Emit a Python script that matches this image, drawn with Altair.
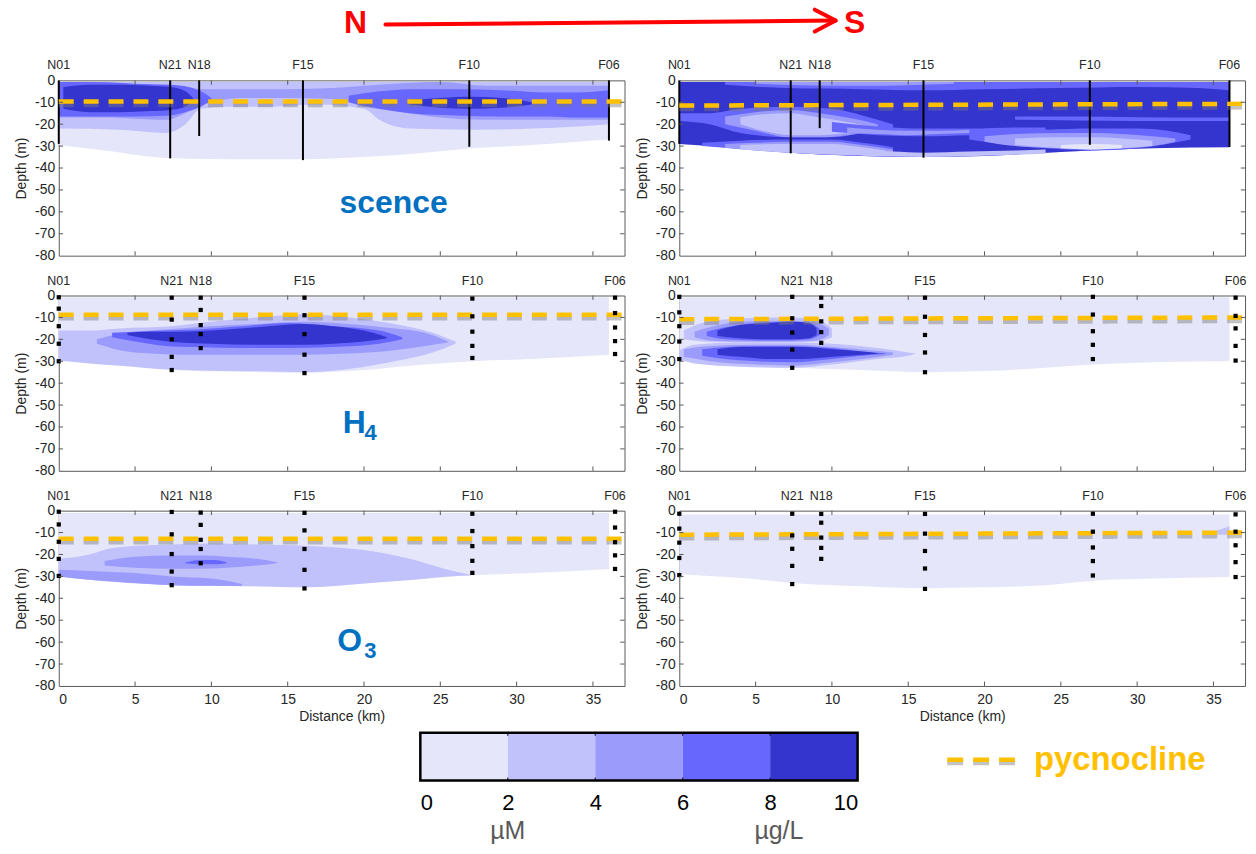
import altair as alt
import pandas as pd

FONT = "Liberation Sans"
AXIS_GREY = "#262626"
FRAME_GREY = "#595959"

# ---- panel geometry -------------------------------------------------------
X_MAX = 37.07
Y_MIN = -80
PANEL_W = 568
PANEL_H = 176
TICK_LEN_M = 2.0
TICK_LEN_KM = 0.28

X_TICKS = [0, 5, 10, 15, 20, 25, 30, 35]
Y_TICKS = [0, -10, -20, -30, -40, -50, -60, -70, -80]

# ---- stations --------------------------------------------------------------
STATIONS = ["N01", "N21", "N18", "F15", "F10", "F06"]
STATION_KM = [0.0, 7.4, 9.3, 16.1, 27.1, 36.45]   # bottle stations
CAST_KM = [0.0, 7.3, 9.2, 16.0, 26.9, 36.05]       # CTD casts

# ---- colour classes (0-2, 2-4, 4-6, 6-8, 8-10) -----------------------------
LEVEL_EDGES = [0, 2, 4, 6, 8, 10]
LEVEL_COLORS = ["#E6E6FA", "#C1C1FB", "#9B9BFB", "#6767FE", "#3434CE"]

PYCNO_COLOR = "#FFC000"
LABEL_BLUE = "#0070C0"

# ---- fluorescence -----------------------------------------------------------
FL_L_SECTION_X = [0, 3, 7.3, 12, 16, 20, 24, 27, 31, 34, 36.05]
FL_L_SECTION_BOTTOM = [-29.5, -32, -35.5, -36, -36, -35, -33, -31, -29.5, -28, -27]
FL_L_SURFACE = -0.8
FL_L_BANDS = [
    (1, [0, 4, 7, 8.3, 9.3, 11, 14, 17, 20, 21, 23, 27, 31, 34, 36.05], -0.8,
     [-22, -22.5, -24, -20, -13, -12, -12, -11, -13, -18, -22, -22.5, -22, -21, -20]),
    (2, [0, 3, 5, 7, 8.3, 9.5, 12, 15, 18, 20, 22, 25, 28, 31, 34, 36.05],
     [-0.8, -0.8, -2.5, -3.5, -3.5, -4, -4, -4, -3.5, -2.5, -1.5, -0.8, -2.5, -2.5, -2.5, -2.5],
     [-17, -17, -17.5, -18, -15, -11, -8, -8, -8.5, -12, -14, -17, -18, -18, -18, -18]),
    (3, [0, 2, 5, 7.3, 8.5, 9.3, 10], [-0.8, -0.8, -1.5, -2, -3, -5, -8],
     [-16.5, -16.5, -16.5, -16, -14, -12, -9]),
    (3, [19, 21, 23, 26, 29, 32, 34, 36.05], [-7, -5, -4, -4, -4.5, -5.5, -5.5, -4.5],
     [-10, -13, -15, -16, -16.5, -16.5, -17, -17]),
    (4, [0.3, 2, 4, 6, 7.3, 8.3, 8.8], [-3, -2, -2, -2.5, -3, -5, -8],
     [-13, -14.5, -14.5, -14, -13.5, -12, -9]),
    (4, [23, 25, 27, 29, 31], [-9, -8, -7.5, -8, -10], [-11, -12.5, -13, -12.5, -11]),
]
FL_L_CAST_DEPTH = [-29, -35.6, -25.4, -36.4, -30.3, -27.5]
FL_L_PYCNO = [-9.6, -9.6]

FL_R_SECTION_X = [0, 3, 7.3, 12, 16, 20, 23, 27, 31, 36.05]
FL_R_SECTION_BOTTOM = [-29, -30.5, -33, -34.5, -35, -34.5, -33.5, -32, -31, -30.5]
FL_R_SURFACE = -0.8
FL_R_BANDS = [
    (4, [0, 3, 7.3, 12, 16, 20, 23, 27, 31, 36.05], -0.8,
     [-29, -30.5, -33, -34.5, -35, -34.5, -33.5, -32, -31, -30.5]),
    (3, [3, 7, 12, 16, 20, 25, 30, 34, 36.05], -0.8, [-2, -3.5, -4, -4.5, -4, -3.5, -3, -3.5, -4.5]),
    (2, [5, 8, 12, 15, 18], -0.8, [-1.5, -2.2, -2.5, -2.2, -1.5]),
    (3, [0, 2, 4, 7.3, 10, 12, 14], [-15, -15, -13, -12, -13, -16, -20], [-18.5, -20, -24, -26, -26, -24, -22]),
    (2, [3, 5, 7.3, 9.2, 11, 13], [-16.5, -14.5, -13.5, -15, -17, -20], [-20, -23, -26, -26, -25, -23]),
    (1, [4, 5.5, 7.3, 9.2, 11, 12.5], [-17, -15.5, -15, -17, -19, -21], [-20, -23, -25, -25, -24, -22.5]),
    (3, [10, 13, 16, 19, 22, 24], [-19, -21, -22, -22, -21.5, -21.5], [-23.5, -25, -25.5, -25, -24.5, -24]),
    (2, [11, 13, 15, 17, 19], [-21.5, -22.5, -23, -23, -22.5], [-24, -24.5, -25, -24.5, -24]),
    (3, [1.5, 4, 7.3, 10, 12, 14], [-28.5, -27.5, -27, -27, -28.5, -30.5], [-30, -31.3, -33, -34, -34.5, -34.8]),
    (2, [3, 5, 7.3, 10, 12, 14], [-29, -28.5, -28, -28, -29.5, -31.5], [-30.8, -32, -33, -34, -34.3, -34.6]),
    (1, [4, 7.3, 10, 12, 13.5], [-29.5, -29, -29, -30.5, -32], [-31.5, -33, -33.8, -34.2, -34.5]),
    (1, [12, 14, 16, 19, 22, 24], [-32, -32.5, -33, -32.5, -32, -31.5], [-34.4, -34.8, -35, -34.6, -34, -33.5]),
    (3, [19, 21, 24, 27, 30, 32, 33.5], [-24.5, -23, -22.5, -22, -22, -23, -25], [-27, -29, -31, -32, -31, -29, -27]),
    (2, [20, 22, 25, 27, 29, 31, 32.5], [-25.5, -24.5, -24, -24, -24.5, -25.5, -26.5], [-28, -30, -31, -31.5, -31, -30, -28]),
    (1, [22, 25, 27.1, 29, 31], [-26.5, -26, -26, -26.5, -27.5], [-29.5, -31, -31.5, -31, -30]),
    (0, [25, 27, 29], [-29.5, -29, -29.5], [-31, -31.5, -31]),
    (3, [22, 26, 30, 34, 36.05], [-16.5, -16.5, -16.8, -17, -17], [-18, -18.3, -18.5, -18.5, -18.5]),
]
FL_R_CAST_DEPTH = [-29, -33.3, -21.8, -35.3, -29.4, -30.4]
FL_R_PYCNO = [-11.5, -10.7]

# ---- NH4 ---------------------------------------------------------------------
NH4_L_SECTION_X = [0, 4, 7.4, 12, 16.1, 20, 23, 27.1, 31, 36.05]
NH4_L_SECTION_BOTTOM = [-30, -31.5, -34, -34.8, -35.2, -34, -32, -30, -29, -27]
NH4_L_SURFACE = -0.8
NH4_L_BANDS = [
    (1, [0, 2, 4, 7.4, 10, 13, 16.1, 19, 22, 24.5, 26],
     [-16, -16, -15, -14, -12, -10, -8.5, -10, -13, -17, -21],
     [-29.5, -31, -32, -33.8, -34.3, -34.6, -35, -33.5, -30, -26, -22]),
    (2, [2.5, 4, 6, 8, 10, 13, 16.1, 19, 22, 24, 25.5],
     [-20, -17.5, -16, -15, -14, -13, -12, -13, -15, -17, -21],
     [-22, -25, -26.5, -27, -27, -27, -27, -26.5, -25, -23, -21.5]),
    (3, [3.5, 5, 7, 9, 12, 15, 18, 21, 22.5],
     [-17, -16.5, -16, -15.5, -14, -12.5, -14, -16, -19],
     [-19, -21, -23, -23.5, -24, -24, -23.5, -22, -20]),
    (4, [4.5, 6, 8, 10, 13, 16.1, 18, 20, 21.5],
     [-17, -16.5, -16.5, -16, -14.5, -13, -14, -16, -19],
     [-18, -20, -21.5, -22, -22.5, -22.5, -22, -21, -19.5]),
]
NH4_L_SAMPLES = [
    [-0.8, -6, -14, -22, -30],
    [-1, -11, -20, -28, -34],
    [-1, -6.6, -13.5, -17.6, -24],
    [-1, -9, -17.6, -27, -35.4],
    [-1.4, -9.5, -16.5, -23, -28.5],
    [-1, -8, -14.6, -20.8, -26.7],
]
NH4_L_PYCNO = [-8.8, -8.8]

NH4_R_SECTION_X = [0, 4.5, 7.4, 12, 16.1, 20, 24, 27.1, 31, 36.05]
NH4_R_SECTION_BOTTOM = [-30, -32, -33, -34, -35, -34.5, -33, -31.5, -30.5, -30]
NH4_R_SURFACE = -0.8
NH4_R_BANDS = [
    (1, [0.3, 1.5, 4, 7.4, 9, 10], [-16, -12.5, -10.5, -10, -11, -15], [-20, -21, -21.5, -21.5, -21, -19]),
    (2, [1, 2, 4, 7.4, 9, 9.8], [-16.5, -14.5, -12, -11.5, -12.5, -15], [-19, -20.5, -21, -21, -20.5, -18]),
    (3, [1.8, 3, 5, 7.4, 8.5, 9.2], [-16.5, -14.5, -12.5, -12, -12.5, -15], [-18.5, -20, -20.5, -20.5, -20, -18]),
    (4, [2.5, 4, 6, 7.4, 8.5, 9], [-16, -13.5, -12.5, -12, -12.5, -15], [-18.5, -19.5, -20, -20, -19.5, -18]),
    (1, [0, 1, 4, 7.4, 10, 13, 15, 15.5], [-25, -22.5, -21.5, -21.5, -22, -24, -26, -26.5],
     [-29, -31, -32.5, -33, -31.5, -29, -27.5, -26.5]),
    (2, [0.3, 2, 5, 7.4, 10, 12.5, 14], [-24.5, -23, -22.5, -22.5, -23.5, -25, -26],
     [-28, -30, -31.5, -32, -30.5, -28.5, -27]),
    (3, [1.5, 3, 5, 7.4, 10, 12, 13.5], [-24.5, -23.5, -23, -23, -24, -25.5, -26.3],
     [-27.5, -29, -30, -30.5, -29, -27.5, -26.7]),
    (4, [2.5, 4, 6, 8, 10, 12, 13], [-24.5, -23.5, -23.5, -23.5, -24.5, -25.5, -26.3],
     [-27, -28, -29, -29, -28, -27, -26.6]),
]
NH4_R_SAMPLES = [
    [-0.6, -7.7, -14, -21, -29],
    [-0.6, -10.4, -16.9, -24.7, -33],
    [-1, -4.8, -11.8, -16.7, -21.6],
    [-1, -9.7, -18, -26, -35],
    [-0.6, -8.7, -16.3, -22.5, -29],
    [-1, -9.3, -15, -23, -29.7],
]
NH4_R_PYCNO = [-10.8, -10]

# ---- NO3 ---------------------------------------------------------------------
NO3_L_SECTION_X = [0, 4, 7.4, 12, 16.1, 20, 23, 27.1, 31, 36.05]
NO3_L_SECTION_BOTTOM = [-30, -32, -34, -34.5, -35, -33.2, -31.7, -29.5, -28.5, -26.6]
NO3_L_SURFACE = -1.1
NO3_L_BANDS = [
    (1, [0, 2, 3.5, 7.4, 10, 13, 16.1, 20, 23, 25.5, 27],
     [-22, -20, -17, -15.5, -15, -15.5, -16, -18, -22, -27, -29.3],
     [-30, -31.5, -32.5, -34, -34.3, -34.5, -35, -33.2, -31.7, -30, -29.6]),
    (2, [3, 5, 7.4, 9.3, 11, 13, 14.3], [-23, -21, -20.5, -20.5, -21, -22, -23.5],
     [-25, -26, -26.5, -26.5, -26, -25, -24]),
    (2, [0, 2, 5, 7.4, 10, 12], [-27, -27.5, -28.5, -30, -31, -33.5],
     [-30, -31.5, -33, -34, -34.3, -34.4]),
    (3, [8.3, 9.3, 10.2, 11], [-23.5, -22.5, -22.5, -23.5], [-24, -24.5, -24.5, -24]),
]
NO3_L_SAMPLES = [
    [-0.5, -6.3, -14.2, -22, -29.8],
    [-0.6, -10.8, -19.8, -27.8, -34],
    [-0.9, -6.5, -13.3, -17.5, -24],
    [-1, -9, -17.5, -27, -35.5],
    [-1.4, -9.3, -16.2, -22.9, -28.4],
    [-0.5, -7.7, -14.4, -20.4, -26.6],
]
NO3_L_PYCNO = [-12.8, -12.8]

NO3_R_SECTION_X = [0, 4.5, 7.4, 12, 16.1, 20, 24, 27.1, 31, 36.05]
NO3_R_SECTION_BOTTOM = [-29, -31, -33, -34.5, -35.4, -35, -34, -32, -31, -30.3]
NO3_R_SURFACE = -1.8
NO3_R_BANDS = [
    (1, [34.5, 35.5, 36.05], [-10, -8.5, -7], [-10.5, -11, -11]),
]
NO3_R_SAMPLES = [
    [-1.4, -8.2, -14.6, -21.6, -29.4],
    [-1.4, -11.3, -17.4, -25.2, -33.5],
    [-1.5, -5.5, -12.3, -17, -22],
    [-1.5, -10.5, -18.4, -26.4, -35.7],
    [-1.4, -9.6, -16.8, -23, -29.6],
    [-1.7, -9.6, -15.8, -23.5, -30.3],
]
NO3_R_PYCNO = [-11, -10]

# ---- colour bar / legend -------------------------------------------------------
UNIT_LABELS = ["\u00b5M", "\u00b5g/L"]
UNIT_POS = [2.0, 8.2]


X_SCALE = alt.Scale(domain=[0, X_MAX], nice=False, zero=False)
Y_SCALE = alt.Scale(domain=[Y_MIN, 0], nice=False, zero=False)

Y_AXIS = alt.Axis(values=Y_TICKS, title="Depth (m)", ticks=False, domain=False, grid=False,
                  labelPadding=4, titlePadding=6,
                  labelExpr="datum.value == 0 ? '0' : '-' + abs(datum.value)")
X_AXIS = alt.Axis(values=X_TICKS, title="Distance (km)", ticks=False, domain=False,
                  grid=False, labelPadding=7, titlePadding=3)


def panel(section_x, surface, section_bottom, bands, pycno, casts=None,
          samples=None, x_axis=False, extra=()):
    xax = X_AXIS if x_axis else None

    # every layer carries the same axis definitions so that they merge cleanly
    def X(field):
        return alt.X(field, type="quantitative", scale=X_SCALE, axis=xax)

    def Y(field):
        return alt.Y(field, type="quantitative", scale=Y_SCALE, axis=Y_AXIS)

    def area(level, xs, tops, bottoms):
        if not isinstance(tops, list):
            tops = [tops] * len(xs)
        df = pd.DataFrame({"x": xs, "top": tops, "bottom": bottoms})
        return alt.Chart(df).mark_area(
            color=LEVEL_COLORS[level], interpolate="monotone", orient="vertical", opacity=1
        ).encode(x=X("x"), y=Y("top"), y2="bottom")

    layers = [area(0, section_x, surface, section_bottom)]
    for lvl, xs, tops, bottoms in bands:
        layers.append(area(lvl, xs, tops, bottoms))

    if casts is not None:
        cdf = pd.DataFrame({"x": CAST_KM, "top": [0] * len(CAST_KM), "depth": casts})
        layers.append(alt.Chart(cdf).mark_rule(color="black", strokeWidth=2).encode(
            x=X("x"), y=Y("top"), y2="depth"))
        label_km = CAST_KM
    else:
        label_km = STATION_KM

    # pycnocline with a soft grey shadow underneath
    pdf = pd.DataFrame({"x": [0, X_MAX], "y": pycno,
                        "ys": [v - 1.5 for v in pycno]})
    layers.append(alt.Chart(pdf).mark_line(color="#7a7a7a", opacity=0.45, strokeWidth=5,
                                           strokeDash=[15, 10]).encode(x=X("x"), y=Y("ys")))
    layers.append(alt.Chart(pdf).mark_line(color=PYCNO_COLOR, strokeWidth=4.5,
                                           strokeDash=[15, 10]).encode(x=X("x"), y=Y("y")))

    if samples is not None:
        rows = []
        for km, depths in zip(STATION_KM, samples):
            for d in depths:
                rows.append({"x": km, "depth": d})
        layers.append(alt.Chart(pd.DataFrame(rows)).mark_square(
            size=18, color="black", opacity=1).encode(x=X("x"), y=Y("depth")))

    # inward ticks on all four sides
    tx = pd.DataFrame({"x": X_TICKS[1:]})
    tx["b0"] = Y_MIN
    tx["b1"] = Y_MIN + TICK_LEN_M
    tx["t0"] = 0
    tx["t1"] = -TICK_LEN_M
    ty = pd.DataFrame({"y": Y_TICKS[1:-1]})
    ty["l0"] = 0
    ty["l1"] = TICK_LEN_KM
    ty["r0"] = X_MAX
    ty["r1"] = X_MAX - TICK_LEN_KM
    layers.append(alt.Chart(tx).mark_rule(color=FRAME_GREY, strokeWidth=1).encode(
        x=X("x"), y=Y("b0"), y2="b1"))
    layers.append(alt.Chart(tx).mark_rule(color=FRAME_GREY, strokeWidth=1).encode(
        x=X("x"), y=Y("t0"), y2="t1"))
    layers.append(alt.Chart(ty).mark_rule(color=FRAME_GREY, strokeWidth=1).encode(
        y=Y("y"), x=X("l0"), x2="l1"))
    layers.append(alt.Chart(ty).mark_rule(color=FRAME_GREY, strokeWidth=1).encode(
        y=Y("y"), x=X("r0"), x2="r1"))

    sdf = pd.DataFrame({"x": label_km, "name": STATIONS})
    layers.append(alt.Chart(sdf).mark_text(fontSize=12.5, font=FONT, color=AXIS_GREY,
                                           baseline="middle").encode(
        x=X("x"), y=alt.value(-15), text="name:N"))

    for spec in extra:
        kind = spec[0]
        if kind == "label":
            _, main, sub, km, depth, sub_dx = spec
            df = pd.DataFrame({"x": [km], "y": [depth], "t": [main], "s": [sub]})
            layers.append(alt.Chart(df).mark_text(
                fontSize=32, fontWeight="bold", font=FONT, color=LABEL_BLUE,
                align="left", baseline="middle").encode(x=X("x"), y=Y("y"), text="t:N"))
            if sub:
                layers.append(alt.Chart(df).mark_text(
                    fontSize=22, fontWeight="bold", font=FONT, color=LABEL_BLUE,
                    align="left", baseline="middle", dx=sub_dx, dy=10).encode(
                    x=X("x"), y=Y("y"), text="s:N"))
        else:
            layers.extend(spec[1])
    return alt.layer(*layers).properties(width=PANEL_W, height=PANEL_H)


# North -> South arrow drawn above the first row
one = pd.DataFrame({"k": [0]})
arrow = [
    alt.Chart(one).mark_text(text="N", fontSize=32, fontWeight="bold", font=FONT,
                             color="#FF0000", baseline="middle").encode(
        x=alt.value(298), y=alt.value(-58)),
    alt.Chart(one).mark_text(text="S", fontSize=32, fontWeight="bold", font=FONT,
                             color="#FF0000", baseline="middle").encode(
        x=alt.value(799), y=alt.value(-58)),
    alt.Chart(one).mark_rule(color="#FF0000", strokeWidth=4, strokeCap="round").encode(
        x=alt.value(328), x2=alt.value(778), y=alt.value(-56), y2=alt.value(-60)),
    alt.Chart(one).mark_rule(color="#FF0000", strokeWidth=4, strokeCap="round").encode(
        x=alt.value(759), x2=alt.value(780), y=alt.value(-71), y2=alt.value(-60)),
    alt.Chart(one).mark_rule(color="#FF0000", strokeWidth=4, strokeCap="round").encode(
        x=alt.value(759), x2=alt.value(780), y=alt.value(-49), y2=alt.value(-60)),
]

p1l = panel(FL_L_SECTION_X, FL_L_SURFACE, FL_L_SECTION_BOTTOM, FL_L_BANDS, FL_L_PYCNO,
            casts=FL_L_CAST_DEPTH,
            extra=[("label", "scence", "", 18.4, -56, 0), ("marks", arrow)])
p1r = panel(FL_R_SECTION_X, FL_R_SURFACE, FL_R_SECTION_BOTTOM, FL_R_BANDS, FL_R_PYCNO,
            casts=FL_R_CAST_DEPTH)
p2l = panel(NH4_L_SECTION_X, NH4_L_SURFACE, NH4_L_SECTION_BOTTOM, NH4_L_BANDS, NH4_L_PYCNO,
            samples=NH4_L_SAMPLES, extra=[("label", "H", "4", 18.6, -58, 22)])
p2r = panel(NH4_R_SECTION_X, NH4_R_SURFACE, NH4_R_SECTION_BOTTOM, NH4_R_BANDS, NH4_R_PYCNO,
            samples=NH4_R_SAMPLES)
p3l = panel(NO3_L_SECTION_X, NO3_L_SURFACE, NO3_L_SECTION_BOTTOM, NO3_L_BANDS, NO3_L_PYCNO,
            samples=NO3_L_SAMPLES, x_axis=True,
            extra=[("label", "O", "3", 18.25, -59.5, 27)])
p3r = panel(NO3_R_SECTION_X, NO3_R_SURFACE, NO3_R_SECTION_BOTTOM, NO3_R_BANDS, NO3_R_PYCNO,
            samples=NO3_R_SAMPLES, x_axis=True)

# ---- colour bar + pycnocline key (drawn in the cell under the left column) ----------
BAR_TOP = 7
BAR_BOTTOM = 55
CB_SCALE = alt.Scale(domain=[0, 10], range=[363, 802], nice=False, zero=False)
CB_AXIS = alt.Axis(values=LEVEL_EDGES, format="d", title=None, ticks=False, domain=False,
                   grid=False, labelFontSize=22, labelColor="black", labelPadding=12,
                   labelFont=FONT)
cb = pd.DataFrame({"lo": LEVEL_EDGES[:-1], "hi": LEVEL_EDGES[1:], "c": LEVEL_COLORS})
frame = pd.DataFrame({"lo": [LEVEL_EDGES[0]], "hi": [LEVEL_EDGES[-1]]})
inner = pd.DataFrame({"v": LEVEL_EDGES[1:-1]})
units = pd.DataFrame({"x": UNIT_POS, "t": UNIT_LABELS})


def CX(field):
    return alt.X(field, type="quantitative", scale=CB_SCALE, axis=CB_AXIS)


legend = alt.layer(
    alt.Chart(cb).mark_rect().encode(
        x=CX("lo"), x2="hi", y=alt.value(BAR_TOP), y2=alt.value(BAR_BOTTOM),
        color=alt.Color("c:N", scale=None)),
    alt.Chart(inner).mark_rule(color="black", strokeWidth=1).encode(
        x=CX("v"), y=alt.value(BAR_TOP), y2=alt.value(BAR_TOP + 3)),
    alt.Chart(inner).mark_rule(color="black", strokeWidth=1).encode(
        x=CX("v"), y=alt.value(BAR_BOTTOM - 3), y2=alt.value(BAR_BOTTOM)),
    alt.Chart(frame).mark_rect(filled=False, stroke="black", strokeWidth=2.5).encode(
        x=CX("lo"), x2="hi", y=alt.value(BAR_TOP), y2=alt.value(BAR_BOTTOM)),
    alt.Chart(units).mark_text(fontSize=25, font=FONT, color="#595959",
                               baseline="middle").encode(
        x=CX("x"), y=alt.value(BAR_TOP + 99), text="t:N"),
    alt.Chart(one).mark_rule(color="#7a7a7a", opacity=0.45, strokeWidth=5,
                             strokeDash=[16, 10]).encode(
        x=alt.value(892), x2=alt.value(960), y=alt.value(BAR_TOP + 30)),
    alt.Chart(one).mark_rule(color=PYCNO_COLOR, strokeWidth=4.5,
                             strokeDash=[16, 10]).encode(
        x=alt.value(892), x2=alt.value(960), y=alt.value(BAR_TOP + 27)),
    alt.Chart(one).mark_text(text="pycnocline", fontSize=33, fontWeight="bold", font=FONT,
                             color=PYCNO_COLOR, align="left",
                             baseline="alphabetic").encode(
        x=alt.value(979), y=alt.value(BAR_TOP + 37)),
).properties(width=PANEL_W, height=BAR_BOTTOM, view=alt.ViewBackground(stroke="transparent"))

chart = alt.concat(
    p1l, p1r, p2l, p2r, p3l, p3r, legend,
    columns=2, bounds="flush", spacing={"row": 40, "column": 55},
).properties(
    padding={"left": 14, "top": 4, "right": 0, "bottom": 0}
).configure_view(
    stroke=FRAME_GREY, strokeWidth=1
).configure_axis(
    labelFont=FONT, titleFont=FONT, labelFontSize=14, titleFontSize=14,
    labelColor=AXIS_GREY, titleColor=AXIS_GREY, titleFontWeight="normal"
)

chart.save("out.html", embed_options={"renderer": "svg", "actions": False})
